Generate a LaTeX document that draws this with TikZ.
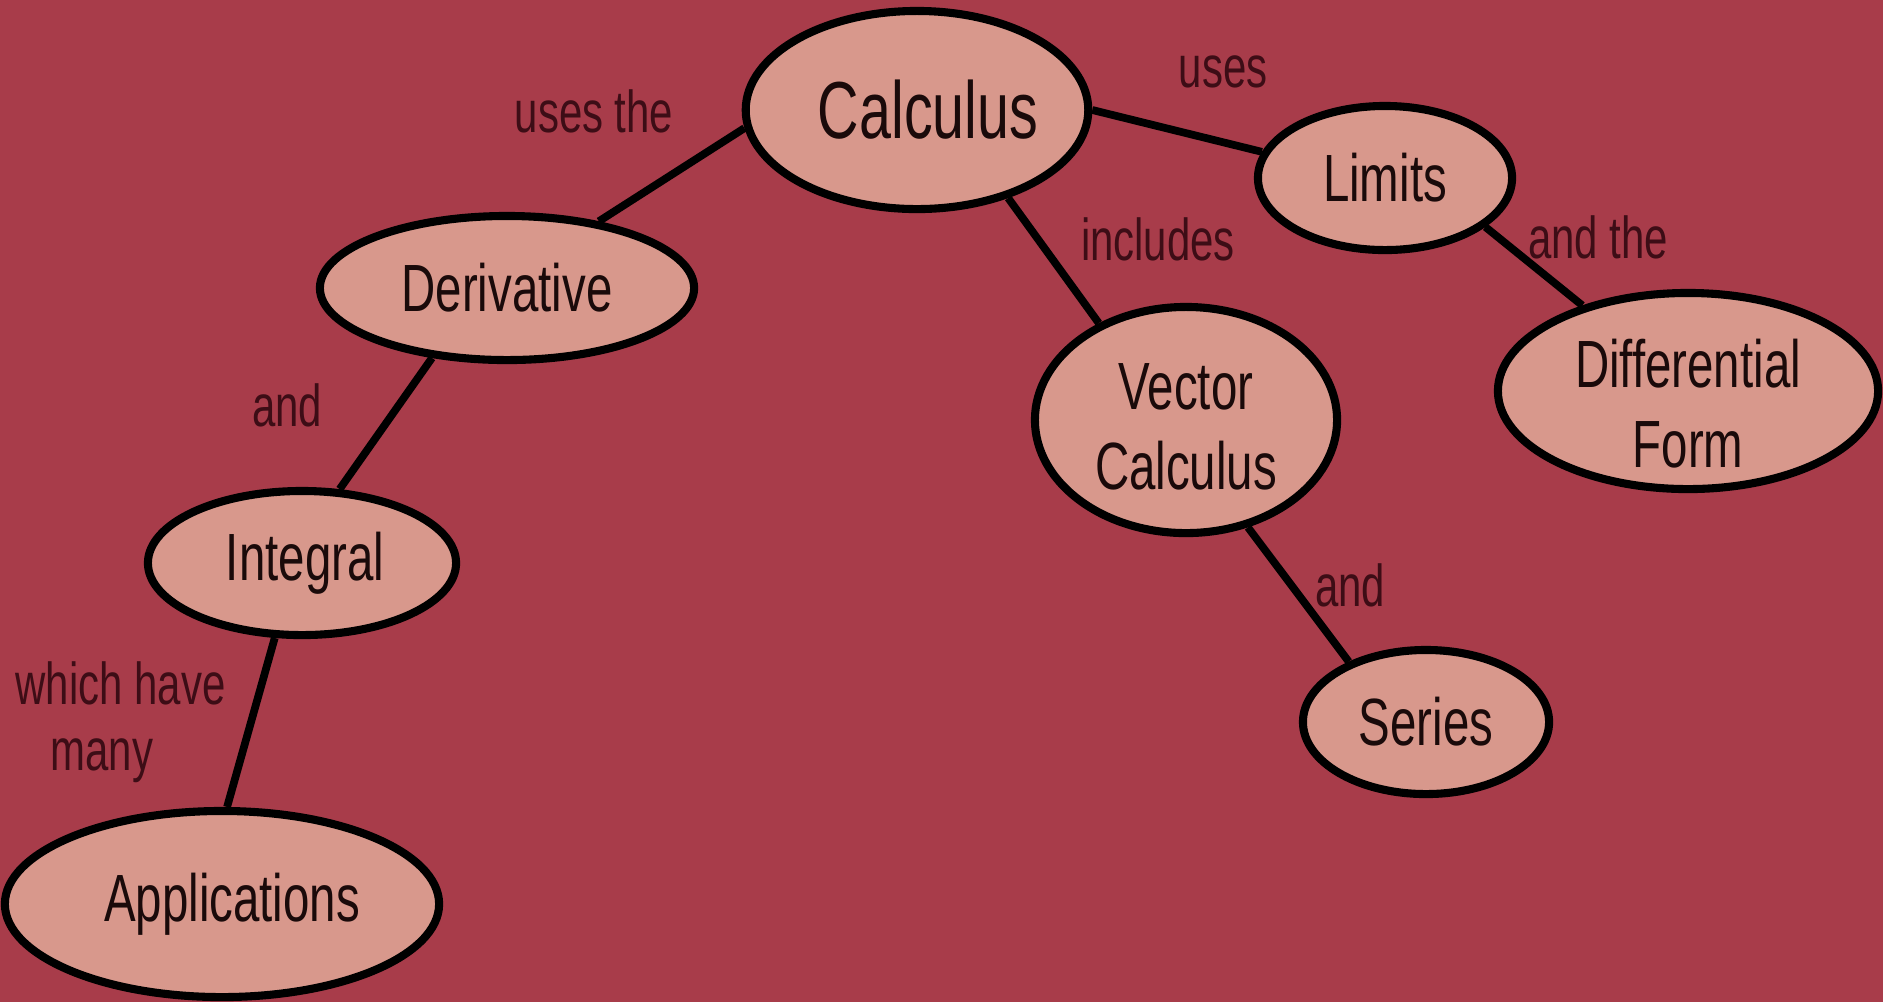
\documentclass[tikz,border=0pt]{standalone}
\usepackage{fontspec}
\setmainfont{Liberation Sans}[FakeStretch=0.71]
\usetikzlibrary{shapes.geometric}
\definecolor{bgc}{HTML}{A83C4A}
\definecolor{fillc}{HTML}{D8988C}
\definecolor{nodetext}{HTML}{1A0A0A}
\definecolor{labeltext}{HTML}{3D0D16}
\newcommand{\twolines}[2]{\raisebox{-#1}[0pt][0pt]{\begin{tabular}{@{}c@{}}#2\end{tabular}}}
\begin{document}
\begin{tikzpicture}[x=0.01cm,y=-0.01cm,
  concept/.style={ellipse, draw=black, line width=2.3pt, fill=fillc, inner sep=0pt,
    text=nodetext, font=\fontsize{19}{22.8}\selectfont},
  link/.style={line width=2.2pt, draw=black},
  lbl/.style={text=labeltext, font=\fontsize{16.8}{18.5}\selectfont, anchor=base, inner sep=0pt}]
\fill[bgc] (0,0) rectangle (1883,1002);
\useasboundingbox (0,0) rectangle (1883,1002);

\node[concept, minimum width=3.38cm, minimum height=1.98cm, font=\fontsize{23}{27}\selectfont] (calc) at (917,110) {\hspace*{0.22cm}Calculus};
\node[concept, minimum width=3.74cm, minimum height=1.44cm] (deriv) at (507,288) {Derivative};
\node[concept, minimum width=3.08cm, minimum height=1.44cm] (integ) at (302,563) {\hspace*{0.06cm}Integral};
\node[concept, minimum width=4.34cm, minimum height=1.86cm] (appl) at (222,904) {\hspace*{0.2cm}Applications};
\node[concept, minimum width=2.54cm, minimum height=1.44cm] (lim) at (1385,178) {Limits};
\node[concept, minimum width=3.80cm, minimum height=1.96cm] (diff) at (1688,391) {\twolines{0.36cm}{Differential\\Form}};
\node[concept, minimum width=3.02cm, minimum height=2.26cm] (vect) at (1186,420) {\twolines{0.29cm}{Vector\\Calculus}};
\node[concept, minimum width=2.46cm, minimum height=1.44cm] (ser) at (1426,722) {Series};

\draw[link] (calc.186.6) -- (deriv.36.2);
\draw[link] (deriv.-137) -- (integ.63.4);
\draw[link] (integ.-110.4) -- (appl.87);
\draw[link] (calc.0.7) -- (lim.168);
\draw[link] (calc.-44) -- (vect.132.5);
\draw[link] (lim.-26.6) -- (diff.141.4);
\draw[link] (vect.-60.6) -- (ser.142.4);

\node[lbl] (l1) at (594,132) {uses the};
\node[lbl] (l2) at (1223,87) {uses};
\node[lbl] (l3) at (1158,260) {includes};
\node[lbl] (l4) at (1598,258) {and the};
\node[lbl] (l5) at (287,426) {and};
\node[lbl] (l6) at (1350,606) {and};
\node[lbl, anchor=base west, align=left] (l7) at (15,770) {which have\\\hspace*{0.35cm}many};
\end{tikzpicture}
\end{document}
